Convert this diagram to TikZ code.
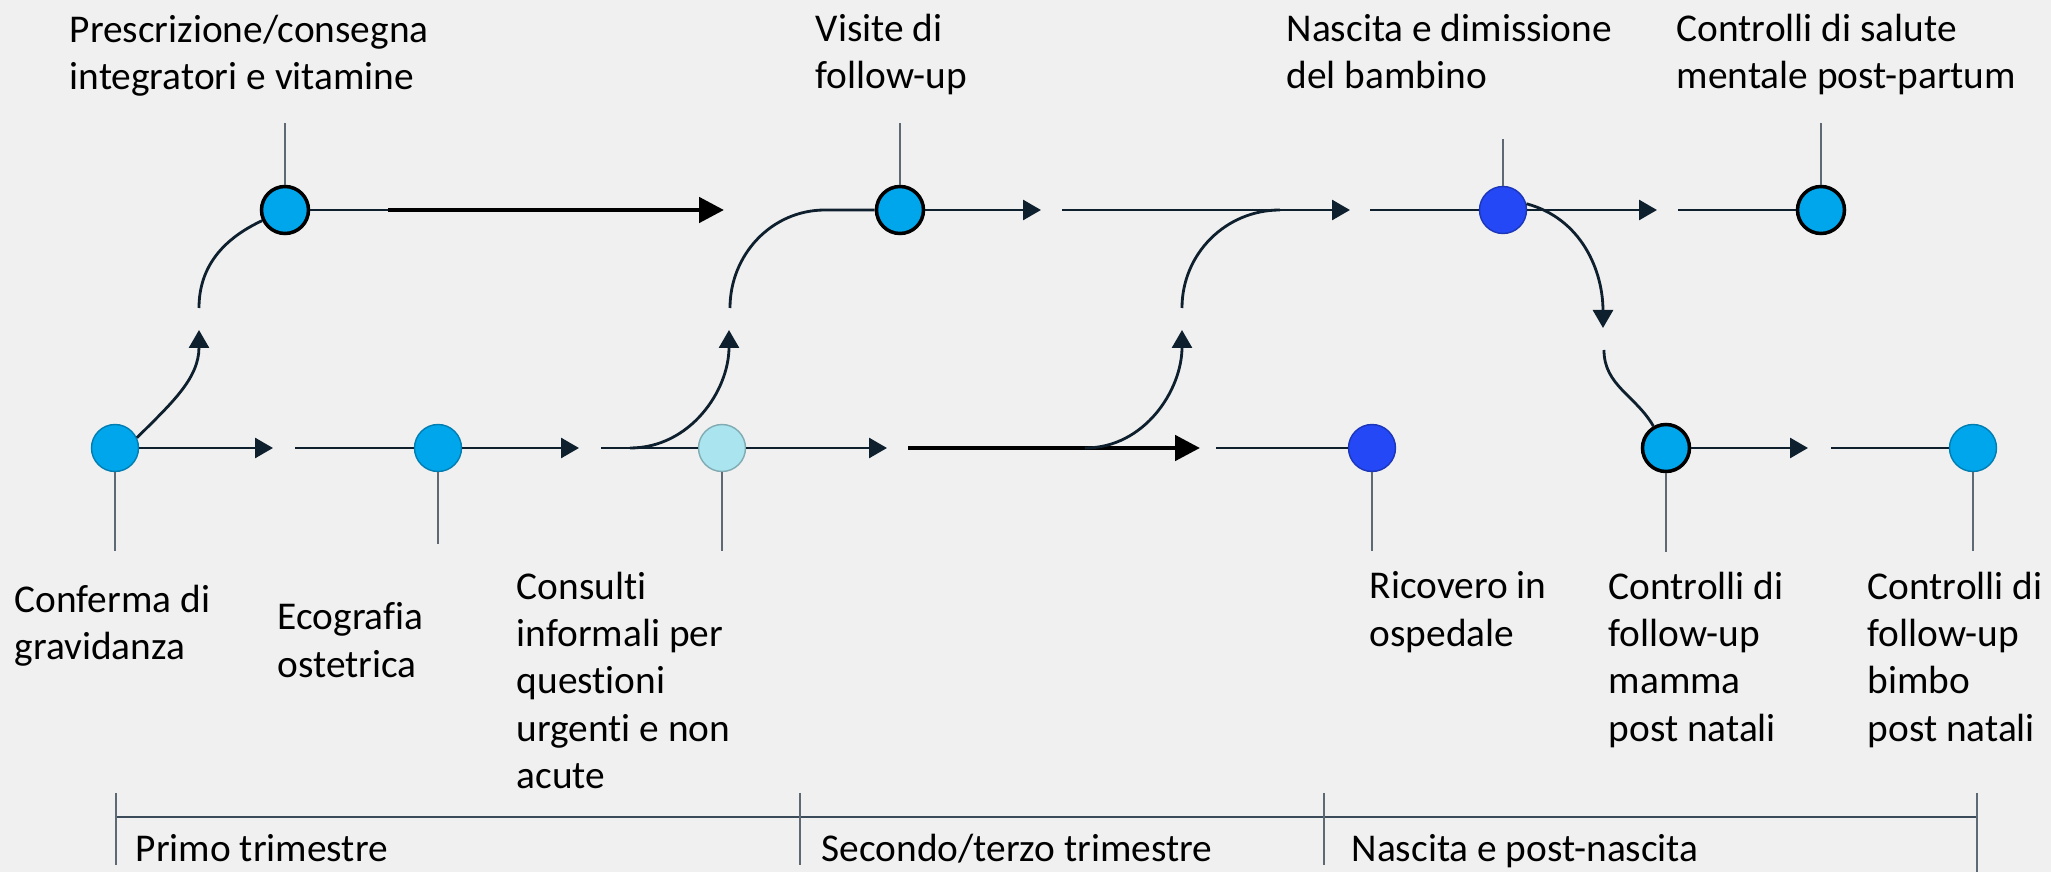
\documentclass[tikz,border=0pt]{standalone}
\usepackage{fontspec}
\setmainfont{Carlito}[Ligatures=NoCommon]
\usetikzlibrary{arrows.meta}
\definecolor{bgcol}{RGB}{240,240,240}
\definecolor{midblue}{RGB}{0,166,236}
\definecolor{paleblue}{RGB}{170,228,238}
\definecolor{deepblue}{RGB}{36,72,245}
\definecolor{navy}{RGB}{14,31,46}
\definecolor{tickgray}{RGB}{95,105,115}
\definecolor{phasecol}{RGB}{60,75,90}

\begin{document}
\begin{tikzpicture}
\tikzset{stage/.style = {shape=circle, fill=#1, draw=#1!75!black, line width=0.4pt, minimum size=0.47cm, inner sep=0pt}}
\tikzset{keystage/.style = {stage=#1, draw=black, line width=1pt}}
\tikzset{flow/.style = {navy, line width=0.8pt}}
\tikzset{edge/.style = {flow, ->, >={Triangle[length=1.8mm,width=2mm]}}}
\tikzset{bold/.style = {black, line width=1.4pt, ->, >={Triangle[length=2.5mm,width=2.5mm]}}}
\tikzset{pin/.style = {tickgray, line width=0.35pt}}
\tikzset{stagetext/.style = {align=left, anchor=north west, inner sep=0pt, font=\fontsize{11.2}{13.5}\selectfont}}
\tikzset{phasetext/.style = {anchor=base west, inner sep=0pt, font=\fontsize{11.2}{13.5}\selectfont}}
\useasboundingbox (0,0) rectangle (20.51,-8.72);
\fill[bgcol] (0,0) rectangle (20.51,-8.72);

\node[stage=midblue](A) at (1.15,-4.48) {};
\node[stage=midblue](B) at (4.38,-4.48) {};
\node[stage=paleblue](C) at (7.22,-4.48) {};
\node[stage=deepblue](D) at (13.72,-4.48) {};
\node[keystage=midblue](E) at (16.66,-4.48) {};
\node[stage=midblue](F) at (19.73,-4.48) {};
\node[keystage=midblue](G) at (2.85,-2.10) {};
\node[keystage=midblue](H) at (9.00,-2.10) {};
\node[stage=deepblue](I) at (15.03,-2.10) {};
\node[keystage=midblue](J) at (18.21,-2.10) {};

\coordinate (a1) at (2.73,-4.48);
\coordinate (b0) at (2.95,-4.48);
\coordinate (b1) at (5.79,-4.48);
\coordinate (c0) at (6.01,-4.48);
\coordinate (c1) at (6.30,-4.48);
\coordinate (c2) at (8.87,-4.48);
\coordinate (k0) at (9.08,-4.48);
\coordinate (k1) at (12.00,-4.48);
\coordinate (k2) at (10.85,-4.48);
\coordinate (d0) at (12.16,-4.48);
\coordinate (e1) at (18.08,-4.48);
\coordinate (f0) at (18.31,-4.48);
\coordinate (g1) at (3.88,-2.10);
\coordinate (g2) at (7.24,-2.10);
\coordinate (h1) at (10.41,-2.10);
\coordinate (h2) at (10.62,-2.10);
\coordinate (h3) at (13.50,-2.10);
\coordinate (i0) at (13.70,-2.10);
\coordinate (i1) at (16.57,-2.10);
\coordinate (j0) at (16.78,-2.10);
\coordinate (r1) at (1.99,-3.30);
\coordinate (r2) at (1.99,-3.08);
\coordinate (r3) at (7.29,-3.30);
\coordinate (r4) at (7.30,-3.08);
\coordinate (r5) at (8.25,-2.10);
\coordinate (r6) at (11.82,-3.30);
\coordinate (r7) at (11.82,-3.08);
\coordinate (r8) at (12.80,-2.10);
\coordinate (r9) at (16.03,-3.28);
\coordinate (r10) at (16.04,-3.50);

\draw[edge] (A) -- (a1);
\draw[flow] (b0) -- (B);
\draw[edge] (B) -- (b1);
\draw[flow] (c0) -- (C);
\draw[edge] (C) -- (c2);
\draw[bold] (k0) -- (k1);
\draw[flow] (d0) -- (D);
\draw[edge] (E) -- (e1);
\draw[flow] (f0) -- (F);
\draw[flow] (G) -- (g1);
\draw[bold] (g1) -- (g2);
\draw[edge] (H) -- (h1);
\draw[edge] (h2) -- (h3);
\draw[flow] (i0) -- (I);
\draw[edge] (I) -- (i1);
\draw[flow] (j0) -- (J);

\draw[edge] (A.25) to[out=45, in=-90] (r1);
\draw[flow] (r2) to[out=90, in=205] (G.205);
\draw[edge] (c1) to[out=0, in=-90] (r3);
\draw[flow] (r4) to[out=90, in=180] (r5) -- (H);
\draw[edge] (k2) to[out=0, in=-90] (r6);
\draw[flow] (r7) to[out=90, in=180] (r8);
\draw[edge] (I.15) to[out=-15, in=90] (r9);
\draw[flow] (r10) to[out=-90, in=120] (E.120);

\foreach \n/\l in {G/0.62, H/0.62, I/0.47, J/0.62}
  \draw[pin] (\n.north) -- ++(0,\l);
\foreach \n/\l in {A/0.79, B/0.72, C/0.79, D/0.79, E/0.79, F/0.79}
  \draw[pin] (\n.south) -- ++(0,-\l);

\node[stagetext](tG) at (0.69,-0.14) {Prescrizione/consegna\\integratori e vitamine};
\node[stagetext](tH) at (8.15,-0.13) {Visite di\\follow-up};
\node[stagetext](tI) at (12.86,-0.13) {Nascita e dimissione\\del bambino};
\node[stagetext](tJ) at (16.76,-0.13) {Controlli di salute\\mentale post-partum};
\node[stagetext](tA) at (0.14,-5.84) {Conferma di\\gravidanza};
\node[stagetext](tB) at (2.77,-6.02) {Ecografia\\ostetrica};
\node[stagetext](tC) at (5.16,-5.71) {Consulti\\informali per\\questioni\\urgenti e non\\acute};
\node[stagetext](tD) at (13.69,-5.71) {Ricovero in\\ospedale};
\node[stagetext](tE) at (16.08,-5.71) {Controlli di\\follow-up\\mamma\\post natali};
\node[stagetext](tF) at (18.67,-5.71) {Controlli di\\follow-up\\bimbo\\post natali};

\coordinate (p1) at (1.16,-8.17);
\coordinate (p2) at (8.00,-8.17);
\coordinate (p3) at (13.24,-8.17);
\coordinate (p4) at (19.77,-8.17);
\draw[phasecol, line width=0.6pt] (p1) -- (p4);
\foreach \p in {p1, p2, p3}
  \draw[pin] (\p) ++(0,0.24) -- ++(0,-0.72);
\draw[pin] (p4) ++(0,0.24) -- ++(0,-0.80);
\node[phasetext](ph1) at (1.35,-8.62) {Primo trimestre};
\node[phasetext](ph2) at (8.21,-8.62) {Secondo/terzo trimestre};
\node[phasetext](ph3) at (13.51,-8.62) {Nascita e post-nascita};
\end{tikzpicture}
\end{document}
